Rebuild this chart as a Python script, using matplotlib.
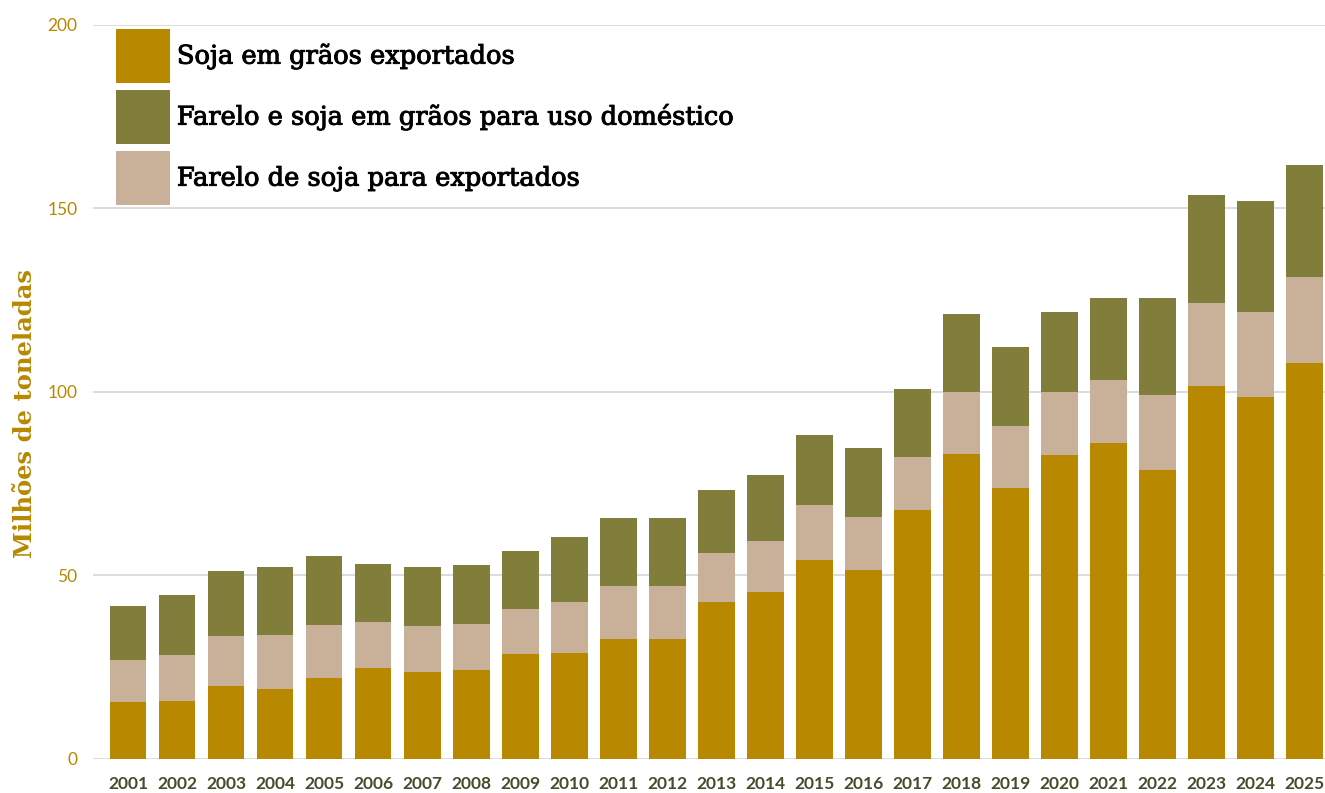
import numpy as np
import matplotlib.pyplot as plt
import matplotlib.patheffects as pe

# Brazilian soybean destination, million tonnes
anos = [str(a) for a in range(2001, 2026)]
soja_exportada = [15.5, 15.8, 19.9, 19.1, 22.1, 24.8, 23.7, 24.3, 28.6, 28.9,
                  32.7, 32.7, 42.8, 45.5, 54.2, 51.5, 67.8, 83.1, 73.8, 82.8,
                  86.1, 78.7, 101.6, 98.6, 107.9]
farelo_exportado = [11.5, 12.5, 13.6, 14.7, 14.4, 12.5, 12.5, 12.5, 12.3, 13.9,
                    14.4, 14.4, 13.3, 13.9, 15.0, 14.4, 14.5, 16.9, 16.9, 17.2,
                    17.2, 20.5, 22.7, 23.2, 23.4]
uso_domestico = [14.7, 16.4, 17.7, 18.5, 18.8, 15.8, 16.1, 16.1, 15.8, 17.7,
                 18.6, 18.6, 17.2, 18.0, 19.1, 18.8, 18.5, 21.3, 21.6, 21.8,
                 22.3, 26.4, 29.4, 30.2, 30.6]

labels = ['Soja em grãos exportados',
          'Farelo e soja em grãos para uso doméstico',
          'Farelo de soja para exportados']

GOLD = '#B88800'
OLIVE = '#817D3B'
TAN = '#C9B199'

fig = plt.figure(figsize=(13.25, 7.93), dpi=100)
ax = fig.add_axes([0.070, 0.0429, 0.930, 0.926])

x = np.arange(len(anos))
s = np.array(soja_exportada)
f = np.array(farelo_exportado)
d = np.array(uso_domestico)
w = 0.75

b1 = ax.bar(x, s, w, color=GOLD, zorder=3)
b3 = ax.bar(x, f, w, bottom=s, color=TAN, zorder=3)
b2 = ax.bar(x, d, w, bottom=s + f, color=OLIVE, zorder=3)

ax.set_ylim(0, 200)
ax.set_xlim(-0.72, 24.42)
ax.set_yticks([0, 50, 100, 150, 200])
ax.yaxis.grid(True, color='#D9D9D9', linewidth=1.3, zorder=0)
ax.set_axisbelow(True)
for sp in ax.spines.values():
    sp.set_visible(False)
ax.tick_params(axis='both', length=0)
ax.tick_params(axis='y', pad=11, labelcolor=GOLD, labelsize=12.5)
ax.tick_params(axis='x', pad=12, labelcolor='#4A4A2C')
ax.set_xticks(x)
ax.set_xticklabels(anos)
for t in ax.get_xticklabels():
    t.set_family('Lato')
    t.set_fontweight('bold')
    t.set_fontsize(12.5)
for t in ax.get_yticklabels():
    t.set_family('Lato')

ax.set_ylabel('Milhões de toneladas', family='DejaVu Serif', fontsize=17.5,
              color=GOLD, fontweight='bold')
ax.yaxis.set_label_coords(-0.045, 0.47)

# legend squares ~54 px, text ~18.5 pt
leg = ax.legend([b1, b2, b3], labels, loc='upper left',
                bbox_to_anchor=(116 / 1325, 1 - 29 / 793),
                bbox_transform=fig.transFigure, frameon=False,
                prop={'family': 'DejaVu Serif', 'size': 18.5},
                handlelength=2.1, handleheight=2.86, labelspacing=0.27,
                handletextpad=0.27, borderpad=0, borderaxespad=0)
# slightly heavier text, like the semibold face of the original
for t in leg.get_texts():
    t.set_path_effects([pe.withStroke(linewidth=0.7, foreground='black')])

plt.savefig('out.png', dpi=100)
